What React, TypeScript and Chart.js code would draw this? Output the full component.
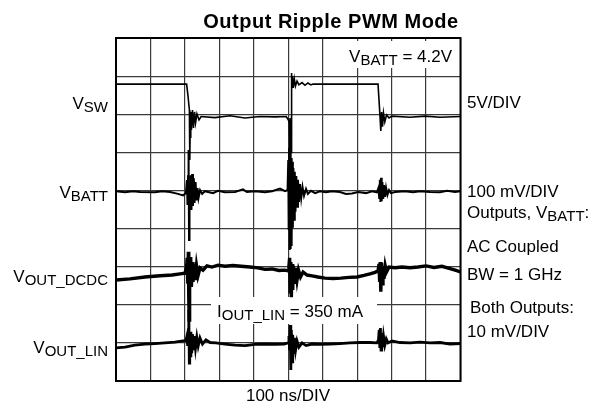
import React, { useEffect, useRef } from "react";
import { Chart, registerables } from "chart.js";
Chart.register(...registerables);

// Time axis in ns (100 ns/DIV, 10 divisions); vertical axis in screen divisions (9).
const X_MIN = 0;
const X_MAX = 1000;
const X_STEP = 100;
const Y_MIN = 0;
const Y_MAX = 9;
const Y_STEP = 1;

const TITLE = "Output Ripple PWM Mode";

// [time ns, divisions]
const VSW: [number, number][] = [
  [0, 7.79], [205, 7.79], [209, 7.48], [213, 7.11], [214, 6.4], [214.5, 5.8], [215, 6.4], [217, 7.06],
  [219, 6.59], [222, 7.11], [225, 6.64], [228, 7.06], [231, 6.77], [235, 7.01], [241, 6.85], [247, 6.94],
  [287, 6.91], [331, 6.96], [374, 6.9], [418, 6.94], [462, 6.93], [494, 6.94], [500.5, 6.85], [503, 6.77],
  [504.5, 5.95], [505.4, 6.9], [506.3, 5.98], [507.2, 6.85], [508, 6.0], [509, 8.08], [510.4, 7.64],
  [512, 8.0], [514.5, 7.69], [517.6, 7.93], [521, 7.74], [525.5, 7.87], [531, 7.77], [540, 7.83],
  [548.7, 7.76], [557, 7.82], [566, 7.77], [572, 7.79], [760.6, 7.79], [763.5, 7.37], [766.4, 6.93],
  [768.7, 6.56], [771, 7.06], [773.6, 6.67], [776.5, 7.03], [780.3, 6.8], [785.3, 6.98], [792.5, 6.9],
  [801, 6.95], [853, 6.92], [897, 6.95], [940.6, 6.92], [1000, 6.94],
];

const VBATT: [number, number][] = [
  [0, 4.98], [26, 4.95], [49, 4.98], [70, 4.96], [113, 4.95], [134, 4.98], [157, 4.96], [180, 4.91],
  [194.5, 4.87], [203, 4.93], [206, 5.27], [207.5, 4.62], [209, 5.37], [210.6, 6.06], [212, 3.7],
  [213.4, 5.12], [215, 4.54], [217, 5.4], [219, 4.49], [221, 5.43], [223.5, 4.59], [226, 5.32],
  [228, 4.67], [231, 5.22], [233.7, 4.74], [236.6, 5.06], [239.5, 4.8], [244, 5.01], [250, 4.91],
  [258, 4.98], [281.6, 4.93], [296, 4.99], [316, 4.95], [345.5, 4.96], [368.7, 5.03], [380, 4.96],
  [403.5, 4.98], [432.5, 4.95], [453, 4.98], [476, 5.05], [490.6, 4.98], [498, 5.01], [500, 5.8],
  [501.2, 3.96], [502.4, 6.12], [503.6, 3.44], [504.7, 6.06], [505.9, 3.49], [507, 6.01], [508.2, 3.57],
  [509.3, 5.85], [510.5, 3.75], [512, 5.75], [513.4, 4.02], [515, 5.59], [516.9, 4.23], [519, 5.49],
  [521, 4.44], [523.4, 5.38], [525.7, 4.57], [528.3, 5.28], [531.2, 4.7], [534, 5.17], [537.6, 4.8],
  [541.4, 5.09], [545.8, 4.86], [551.6, 5.04], [557, 4.91], [566, 4.99], [578, 4.93], [592, 4.98],
  [609.6, 4.95], [627, 4.98], [650, 4.96], [667.7, 4.91], [685, 4.92], [702.5, 4.96], [725.8, 4.93],
  [743, 4.98], [757.4, 4.95], [762, 5.07], [764, 4.8], [765.8, 5.28], [767.5, 4.7], [769.3, 5.33],
  [771.3, 4.72], [773.3, 5.22], [775.7, 4.78], [778, 5.14], [781, 4.83], [784, 5.07], [788, 4.88],
  [792.5, 5.01], [798, 4.93], [810, 4.96], [839, 4.98], [862, 4.95], [882.5, 4.98], [911.5, 4.96],
  [940.6, 4.95], [961, 4.99], [984, 4.96], [1000, 4.98],
];

const VOUT_DCDC: [number, number][] = [
  [0, 2.65], [40.6, 2.68], [84, 2.73], [128, 2.76], [163, 2.78], [186, 2.81], [200, 2.83],
  [204.7, 2.97], [206.7, 3.23], [208.5, 2.55], [210, 3.39], [211.3, 2.13], [212.5, 1.6], [213.7, 3.12],
  [215, 2.52], [216.8, 3.25], [218.9, 2.47], [221, 3.12], [223.5, 2.6], [226.4, 3.07], [230, 2.65],
  [233.7, 3.02], [238, 2.76], [244, 2.97], [252.6, 2.91], [264, 3.02], [278.7, 2.99], [296, 3.04],
  [316.4, 3.01], [339.7, 3.03], [363, 3.01], [389, 2.99], [412, 2.97], [432.5, 2.93], [453, 2.94],
  [473, 2.9], [490.6, 2.91], [499.3, 2.89], [502, 3.02], [504, 3.23], [505.7, 2.34], [507.5, 3.12],
  [509, 2.2], [511, 3.07], [513, 2.39], [515, 3.02], [518, 2.55], [521.3, 2.97], [525.5, 2.65],
  [529.8, 2.91], [535.6, 2.73], [543, 2.86], [554.5, 2.78], [569, 2.76], [586, 2.73], [606.7, 2.7],
  [630, 2.69], [653, 2.7], [676, 2.72], [699.6, 2.73], [720, 2.77], [737, 2.81], [752, 2.85],
  [760.6, 2.89], [763.5, 3.07], [765.3, 2.6], [767, 3.12], [768.7, 2.34], [770.5, 3.1], [772.8, 2.55],
  [775, 3.02], [778, 2.68], [781.5, 3.02], [785.3, 2.86], [792.5, 2.99], [810, 2.97], [830, 2.99],
  [853.5, 2.97], [876.7, 2.99], [900, 3.02], [923, 2.98], [946, 3.01], [969.6, 2.95], [987, 2.9],
  [1000, 2.86],
];

const VOUT_LIN: [number, number][] = [
  [0, 0.87], [26, 0.89], [55, 0.94], [84, 0.97], [113, 0.98], [142, 1.0], [171, 1.02], [194.5, 1.05],
  [203, 1.06], [206, 1.18], [208, 0.92], [210, 1.34], [211.3, 1.86], [212.8, 0.47], [214, 1.23],
  [216, 0.66], [217.4, 1.29], [219.8, 0.73], [222, 1.23], [224.7, 0.81], [227.6, 1.18], [230.8, 0.87],
  [234.6, 1.15], [238.6, 0.92], [243.8, 1.13], [251, 0.97], [261, 1.08], [273, 1.01], [290, 1.0],
  [316, 0.97], [345.5, 0.94], [374.5, 0.93], [403.5, 0.96], [432.5, 0.97], [461.6, 0.96], [487.7, 0.97],
  [499.3, 1.0], [502, 1.18], [504, 0.81], [505.7, 1.47], [507.5, 0.29], [509, 1.34], [511, 0.5],
  [513, 1.21], [515, 0.71], [518, 1.13], [521.3, 0.81], [525.5, 1.05], [531, 0.89], [540, 1.0],
  [551.6, 0.93], [569, 0.97], [592, 0.96], [621, 0.97], [650, 0.98], [679, 1.0], [708, 1.01],
  [737, 1.01], [757.4, 1.0], [762, 1.08], [764, 1.34], [765.8, 0.87], [767.5, 1.39], [769.3, 0.81],
  [771.3, 1.26], [773.6, 0.89], [776.5, 1.18], [780.3, 0.94], [784.7, 1.1], [789.6, 1.0], [801, 1.05],
  [824.5, 1.01], [853.5, 1.0], [882.5, 1.02], [911.5, 1.0], [940.6, 1.01], [969.6, 0.97], [1000, 0.98],
];

type Part = { t: string; sub?: boolean };
const FONT = '"Liberation Sans", Arial, Helvetica, sans-serif';

function drawRich(
  ctx: CanvasRenderingContext2D,
  parts: Part[],
  x: number,
  y: number,
  align: "left" | "right" | "center",
  size = 17,
  subSize = 15,
  bold = false,
  spacing = 0
) {
  const anyCtx = ctx as any;
  anyCtx.letterSpacing = `${spacing}px`;
  const f = (s: number) => `${bold ? "bold " : ""}${s}px ${FONT}`;
  const widths = parts.map((p) => {
    ctx.font = f(p.sub ? subSize : size);
    return ctx.measureText(p.t).width;
  });
  const total = widths.reduce((a, b) => a + b, 0);
  let cx = align === "left" ? x : align === "right" ? x - total : x - total / 2;
  ctx.textAlign = "left";
  ctx.textBaseline = "alphabetic";
  parts.forEach((p, i) => {
    ctx.font = f(p.sub ? subSize : size);
    ctx.fillText(p.t, cx, p.sub ? y + 3 : y);
    cx += widths[i];
  });
  anyCtx.letterSpacing = "0px";
}

const scopePlugin = {
  id: "scopeDecor",
  beforeDatasetsDraw(chart: any) {
    const { ctx, chartArea: a } = chart;
    ctx.save();
    // white label backgrounds that cut the graticule
    ctx.fillStyle = "#ffffff";
    ctx.fillRect(340, 41, 115, 27);
    ctx.fillRect(211, 297, 166, 27);
    // frame
    ctx.strokeStyle = "#000";
    ctx.lineWidth = 2;
    ctx.strokeRect(a.left, a.top, a.right - a.left, a.bottom - a.top);
    ctx.restore();
  },
  afterDraw(chart: any) {
    const { ctx } = chart;
    ctx.save();
    ctx.fillStyle = "#000";
    drawRich(ctx, [{ t: TITLE }], 331, 27.5, "center", 20, 13, true, 0.5);
    // left channel labels
    drawRich(ctx, [{ t: "V" }, { t: "SW", sub: true }], 108, 109, "right");
    drawRich(ctx, [{ t: "V" }, { t: "BATT", sub: true }], 108, 198, "right");
    drawRich(ctx, [{ t: "V" }, { t: "OUT_DCDC", sub: true }], 108, 281.5, "right");
    drawRich(ctx, [{ t: "V" }, { t: "OUT_LIN", sub: true }], 108, 353, "right");
    // in-plot labels
    drawRich(ctx, [{ t: "V" }, { t: "BATT", sub: true }, { t: " = 4.2V" }], 452, 62.3, "right");
    drawRich(ctx, [{ t: "I" }, { t: "OUT_LIN", sub: true }, { t: " = 350 mA" }], 217, 316.7, "left");
    // right side notes
    drawRich(ctx, [{ t: "5V/DIV" }], 467, 108.3, "left");
    drawRich(ctx, [{ t: "100 mV/DIV" }], 467, 196.7, "left");
    drawRich(ctx, [{ t: "Outputs, V" }, { t: "BATT", sub: true }, { t: ":" }], 467, 218.3, "left");
    drawRich(ctx, [{ t: "AC Coupled" }], 467, 252, "left");
    drawRich(ctx, [{ t: "BW = 1 GHz" }], 467, 280, "left");
    drawRich(ctx, [{ t: "Both Outputs:" }], 470, 313, "left");
    drawRich(ctx, [{ t: "10 mV/DIV" }], 467, 336.7, "left");
    // time base
    drawRich(ctx, [{ t: "100 ns/DIV" }], 288, 400.7, "center");
    ctx.restore();
  },
};

const toXY = (arr: [number, number][]) => arr.map(([x, y]) => ({ x, y }));

export default function App() {
  const ref = useRef<HTMLCanvasElement | null>(null);
  useEffect(() => {
    if (!ref.current) return;
    const mk = (label: string, arr: [number, number][], w: number) => ({
      label,
      data: toXY(arr),
      borderColor: "#000",
      backgroundColor: "#000",
      borderWidth: w,
      pointRadius: 0,
      tension: 0,
      fill: false,
    });
    const chart = new Chart(ref.current, {
      type: "line",
      data: {
        datasets: [
          mk("VSW", VSW, 1.6),
          mk("VBATT", VBATT, 2),
          mk("VOUT_DCDC", VOUT_DCDC, 3.4),
          mk("VOUT_LIN", VOUT_LIN, 2.8),
        ],
      },
      options: {
        responsive: false,
        devicePixelRatio: 1,
        animation: false,
        events: [],
        layout: { padding: { left: 116, right: 134.5, top: 38, bottom: 30 } },
        plugins: { legend: { display: false }, tooltip: { enabled: false }, title: { display: false } },
        scales: {
          x: {
            type: "linear",
            min: X_MIN,
            max: X_MAX,
            ticks: { display: false, stepSize: X_STEP },
            grid: { color: "#3a3a3a", lineWidth: 1.2, drawTicks: false },
            border: { display: false },
          },
          y: {
            type: "linear",
            min: Y_MIN,
            max: Y_MAX,
            ticks: { display: false, stepSize: Y_STEP },
            grid: { color: "#3a3a3a", lineWidth: 1.2, drawTicks: false },
            border: { display: false },
          },
        },
      },
      plugins: [scopePlugin],
    });
    return () => chart.destroy();
  }, []);
  return (
    <div style={{ position: "fixed", left: 0, top: 0, width: 595, height: 411, background: "#fff" }}>
      <canvas ref={ref} width={595} height={411} style={{ display: "block" }} />
    </div>
  );
}
